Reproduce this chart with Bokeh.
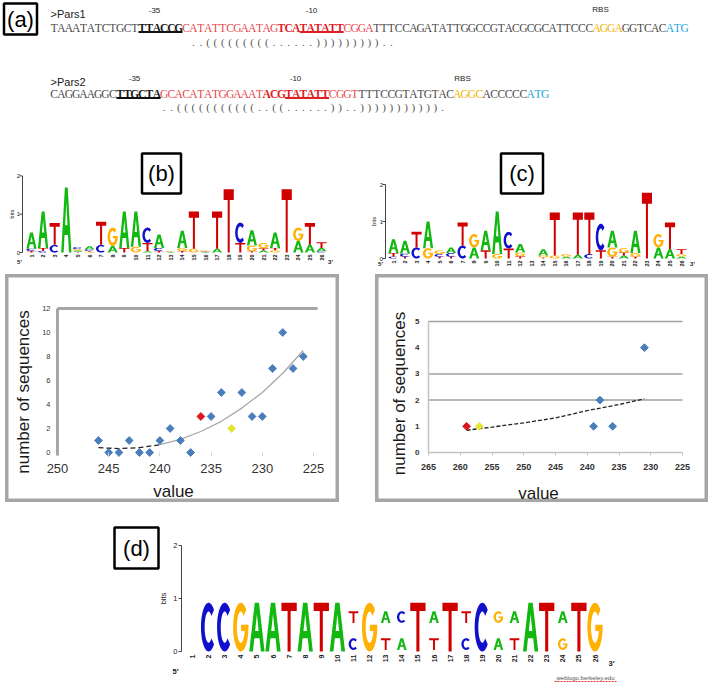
import numpy as np
from bokeh.plotting import figure
from bokeh.models import Range1d, FixedTicker, Spacer, LinearAxis
from bokeh.layouts import column, row
from bokeh.core.properties import value
from bokeh.embed import file_html
from bokeh.resources import INLINE

# ------------------------------------------------------------------ data
# panel (a): promoter sequences split into annotated segments
PARS1_SEGMENTS = ["TAAATATCTGCT", "TTACCG", "CATATTCGAATAG", "TCA", "TATATT", "CGGA",
                  "TTTCCAGATATTGGCCGTACGCGCATTCCC", "AGGA", "GGTCAC", "ATG"]
PARS2_SEGMENTS = ["CAGGAAGGC", "TTGCTA", "GCACATATGGAAAT", "ACG", "TATATT", "CGGT",
                  "TTTCCGTATGTAC", "AGGC", "ACCCCC", "ATG"]
SEGMENT_ROLES = ["plain", "m35", "red", "redbold", "m10", "red", "plain", "rbs", "plain", "start"]
PARS1_STRUCTURE = "..(((((((((......)))))))))..";
PARS2_STRUCTURE = "..(((((((((((..((......))..)))))))))))."
PARS1_STRUCT_START = 19
PARS2_STRUCT_START = 15

# panel (b) logo: information (bits) per letter, positions 1..26
LOGO_B_A = [0.42, 0.95, 0, 1.70, 0.03, 0.08, 0, 0.17, 0.95, 0.92, 0.03, 0.35, 0.01, 0.45, 0, 0.01, 0.10, 0, 0, 0.40, 0.05, 0.40, 0, 0.30, 0.20, 0.09]
LOGO_B_C = [0.06, 0.04, 0.20, 0, 0.05, 0.04, 0.20, 0, 0, 0, 0.40, 0.08, 0.01, 0, 0, 0.01, 0, 0, 0.53, 0, 0, 0, 0, 0, 0, 0.03]
LOGO_B_G = [0, 0, 0, 0, 0.04, 0.02, 0, 0.48, 0, 0.15, 0, 0, 0.01, 0.08, 0.10, 0.02, 0, 0, 0, 0.15, 0.14, 0.06, 0, 0.35, 0, 0]
LOGO_B_T = [0.04, 0.08, 0.57, 0, 0.02, 0.02, 0.60, 0, 0.12, 0, 0.22, 0.04, 0.01, 0.04, 0.97, 0.01, 0.97, 1.65, 0.25, 0.03, 0.06, 0.06, 1.65, 0, 0.57, 0.15]

# panel (c) logo
LOGO_C_A = [0.37, 0.35, 0, 0.72, 0, 0.15, 0, 0.30, 0.53, 1.15, 0, 0.23, 0, 0.17, 0, 0.05, 0.10, 0, 0, 0.45, 0.08, 0.60, 0, 0.30, 0.25, 0.05]
LOGO_C_C = [0.05, 0.08, 0.30, 0, 0.07, 0.10, 0.35, 0, 0, 0, 0.45, 0, 0, 0, 0, 0, 0, 0.12, 0.72, 0, 0, 0, 0, 0, 0, 0]
LOGO_C_G = [0, 0, 0, 0.28, 0.10, 0, 0, 0.36, 0, 0.12, 0, 0.10, 0, 0.05, 0.08, 0.07, 0, 0, 0, 0.25, 0.12, 0.10, 0, 0.36, 0, 0.07]
LOGO_C_T = [0.10, 0.05, 0.42, 0, 0.05, 0.05, 0.62, 0, 0.22, 0, 0.27, 0.06, 0, 0.03, 1.16, 0, 1.14, 1.12, 0.22, 0.05, 0.08, 0.05, 1.78, 0, 0.72, 0.13]

# panel (d) logo: main (bottom) letter and optional top letter per position
LOGO_D_MAIN = ["", "C", "C", "G", "A", "A", "T", "A", "T", "A", "C", "G", "T", "A", "T", "T", "T",
               "C", "C", "A", "T", "A", "T", "G", "T", "G"]
LOGO_D_MAIN_H = [0, 0.92, 0.92, 0.92, 0.92, 0.92, 0.92, 0.92, 0.92, 0.92, 0.22, 0.92, 0.22, 0.22, 0.92, 0.22,
                 0.92, 0.22, 0.92, 0.22, 0.22, 0.92, 0.92, 0.22, 0.92, 0.92]
LOGO_D_TOP = ["", "", "", "", "", "", "", "", "", "", "T", "", "A", "C", "", "A", "", "T", "", "G", "A",
              "", "", "A", "", ""]
LOGO_D_TOP_H = [0, 0, 0, 0, 0, 0, 0, 0, 0, 0, 0.22, 0, 0.22, 0.22, 0, 0.22, 0, 0.22, 0, 0.22, 0.22,
                0, 0, 0.22, 0, 0]

# panel (b) scatter
B_VALUE = [246, 245, 244, 243, 242, 241, 240, 239, 238, 237, 236, 235, 234, 233, 232, 231, 230, 229, 228, 227, 226]
B_COUNT = [1, 0, 0, 1, 0, 0, 1, 2, 1, 0, 3, 3, 5, 2, 5, 3, 3, 7, 10, 7, 8]
B_RED = 236
B_YELLOW = 233
B_TREND_X = [246, 244, 242, 240, 238, 236, 234, 232, 230, 228, 226]
B_TREND_Y = [0.40, 0.33, 0.40, 0.65, 1.10, 1.75, 2.60, 3.70, 5.00, 6.60, 8.50]
B_XTICKS = [250, 245, 240, 235, 230, 225]
B_YTICKS = [0, 2, 4, 6, 8, 10, 12]

# panel (c) scatter
C_VALUE = [259, 257, 239, 238, 236, 231]
C_COUNT = [1, 1, 1, 2, 1, 4]
C_RED = 259
C_YELLOW = 257
C_TREND_X = [259, 255, 250, 245, 240, 235, 231]
C_TREND_Y = [0.85, 0.97, 1.13, 1.32, 1.60, 1.83, 2.05]
C_XTICKS = [265, 260, 255, 250, 245, 240, 235, 230, 225]
C_YTICKS = [0, 1, 2, 3, 4, 5]
C_GRID = [2, 3, 5]

# ------------------------------------------------------------------ styles
SANS_NAME = "Liberation Sans"
SANS = value(SANS_NAME)
SERIF = value("Liberation Serif")
LETTER_COLORS = {"A": "#10b810", "C": "#1010cc", "G": "#ffb000", "T": "#d00000"}
ROLE_STYLE = {"plain": ("#4a4a4a", "normal"), "m35": ("#1a1a1a", "bold"),
              "red": ("#e8474c", "normal"), "redbold": ("#e01e26", "bold"),
              "m10": ("#e01e26", "bold"), "rbs": ("#f2b300", "normal"),
              "start": ("#23a6e0", "normal")}
BLUE = "#4a7ebb"
RED = "#e0141c"
YELLOW = "#e4e636"
BOX_GRAY = "#a6a6a6"


def blank_fig(w, h, xr, yr):
    p = figure(width=w, height=h, x_range=Range1d(*xr), y_range=Range1d(*yr),
               x_axis_type=None, y_axis_type=None, output_backend="svg",
               toolbar_location=None, min_border=0)
    p.outline_line_color = None
    p.grid.visible = False
    return p


# ------------------------------------------------------------------ panel (a)
X0, PITCH = 50.0, 7.33
pa = blank_fig(709, 140, (0, 709), (140, 0))


def draw_sequence(p, segments, y_base, y_line):
    idx = 0
    for seg, role in zip(segments, SEGMENT_ROLES):
        color, style = ROLE_STYLE[role]
        xs = [X0 + (idx + k + 0.5) * PITCH for k in range(len(seg))]
        p.text(x=xs, y=[y_base] * len(seg), text=list(seg), text_color=color,
               text_font=SERIF, text_font_style=style, text_font_size="11.5px",
               text_align="center", text_baseline="alphabetic")
        if role in ("m35", "m10"):
            p.segment(x0=[X0 + idx * PITCH], y0=[y_line], x1=[X0 + (idx + len(seg)) * PITCH],
                      y1=[y_line], line_color=("#111111" if role == "m35" else "#e01e26"),
                      line_width=2)
        idx += len(seg)


def draw_structure(p, s, start, y):
    xs = [X0 + (start + k + 0.5) * PITCH for k in range(len(s))]
    p.text(x=xs, y=[y] * len(s), text=list(s), text_color="#555555", text_font=SERIF,
           text_font_size="11px", text_align="center", text_baseline="middle")


draw_sequence(pa, PARS1_SEGMENTS, 27, 31.5)
draw_sequence(pa, PARS2_SEGMENTS, 93.5, 97.5)
draw_structure(pa, PARS1_STRUCTURE, PARS1_STRUCT_START, 41.5)
draw_structure(pa, PARS2_STRUCTURE, PARS2_STRUCT_START, 106.5)
pa.text(x=[50, 50], y=[13, 81], text=[">Pars1", ">Pars2"], text_font=SANS,
        text_font_size="11px", text_color="#222222", text_baseline="alphabetic")
pa.text(x=[154, 311, 600, 134, 295, 462], y=[10, 10, 9, 78, 78, 78],
        text=["-35", "-10", "RBS", "-35", "-10", "RBS"], text_font=SANS,
        text_font_size="8px", text_color="#222222", text_align="center",
        text_baseline="alphabetic")
pa.rect(x=[20], y=[18.5], width=33, height=31, fill_color=None, line_color="black",
        line_width=2.5)
pa.text(x=[20], y=[18.5], text=["(a)"], text_font=SANS, text_font_size="22px",
        text_align="center", text_baseline="middle", text_color="black")


# ------------------------------------------------------------------ letter shapes
def letter_shape(L):
    if L == "A":
        outer = [(0, 0), (0.36, 1), (0.64, 1), (1, 0), (0.76, 0), (0.67, 0.27), (0.33, 0.27), (0.24, 0)]
        hole = [(0.385, 0.42), (0.615, 0.42), (0.5, 0.77)]
        return [outer, hole]
    if L == "T":
        return [[(0, 1), (1, 1), (1, 0.83), (0.6, 0.83), (0.6, 0), (0.4, 0), (0.4, 0.83), (0, 0.83)]]
    if L == "C":
        a = np.radians(np.linspace(45, 315, 40))
        b = a[::-1]
        outer = list(zip(0.5 + 0.5 * np.cos(a), 0.5 + 0.5 * np.sin(a)))
        inner = list(zip(0.5 + 0.26 * np.cos(b), 0.5 + 0.32 * np.sin(b)))
        return [outer + inner]
    a = np.radians(np.linspace(45, 360, 44))
    outer = list(zip(0.5 + 0.5 * np.cos(a), 0.5 + 0.5 * np.sin(a)))
    bar_pts = [(1, 0.55), (0.52, 0.55), (0.52, 0.42), (0.76, 0.42)]
    b = np.radians(np.linspace(-15, -315, 40))
    inner = list(zip(0.5 + 0.26 * np.cos(b), 0.5 + 0.32 * np.sin(b)))
    return [outer + bar_pts + inner]


SHAPES = {L: letter_shape(L) for L in "ACGT"}


def add_letters(p, items):
    xs, ys, cs = [], [], []
    for L, xc, w, y0, h in items:
        rings = SHAPES[L]
        xs.append([[[float(xc - w / 2 + w * pt[0]) for pt in r] for r in rings]])
        ys.append([[[float(y0 + h * pt[1]) for pt in r] for r in rings]])
        cs.append(LETTER_COLORS[L])
    p.multi_polygons(xs=xs, ys=ys, fill_color=cs, line_color=None)


def stacked_items(a, c, g, t, width):
    items = []
    for i in range(len(a)):
        col = sorted([("A", a[i]), ("C", c[i]), ("G", g[i]), ("T", t[i])], key=lambda z: z[1])
        y = 0.0
        for L, h in col:
            if h > 0:
                items.append((L, i + 1, width, y, h))
                y += h
    return items


class LogoFrame:
    def __init__(self, w, h, left, top, pos1, sp, y0, ppb):
        self.pos1, self.sp, self.y0, self.ppb = pos1, sp, y0, ppb
        self.p = blank_fig(w, h, (self.X(left), self.X(left + w)), (self.Y(top + h), self.Y(top)))

    def X(self, px):
        return 1 + (px - self.pos1) / self.sp

    def Y(self, py):
        return (self.y0 - py) / self.ppb


def logo_axes(lf, n, ax_px, lab_px, bits_px, num_top_px, five, three, tick_fs, lab_fs, end_fs):
    p = lf.p
    ax = lf.X(ax_px)
    p.segment(x0=[ax], y0=[0], x1=[ax], y1=[2], line_color="#444444", line_width=1)
    p.segment(x0=[lf.X(ax_px - 3)] * 3, y0=[0, 1, 2], x1=[ax] * 3, y1=[0, 1, 2],
              line_color="#444444", line_width=1)
    p.text(x=[lf.X(lab_px)] * 3, y=[0, 1, 2], text=["0", "1", "2"], text_font=SANS,
           text_font_size=lab_fs, text_align="right", text_baseline="middle", text_color="#222222")
    p.text(x=[lf.X(bits_px)], y=[1], text=["bits"], angle=np.pi / 2, text_font=SANS,
           text_font_size=lab_fs, text_align="center", text_baseline="middle", text_color="#222222")
    pos = list(range(1, n + 1))
    p.text(x=pos, y=[lf.Y(num_top_px)] * n, text=[str(i) for i in pos], angle=np.pi / 2,
           text_font=SANS, text_font_style="bold", text_font_size=tick_fs, text_align="right",
           text_baseline="middle", text_color="#222222")
    p.text(x=[lf.X(five[0]), lf.X(three[0])], y=[lf.Y(five[1]), lf.Y(three[1])],
           text=["5\u2032", "3\u2032"], text_font=SANS, text_font_style="bold",
           text_font_size=end_fs, text_align="center", text_baseline="middle", text_color="#222222")


def panel_box(p, x, y, w, h, label):
    p.rect(x=[x], y=[y], width=w, height=h, width_units="screen", height_units="screen",
           fill_color=None, line_color="black", line_width=2.5)
    p.text(x=[x], y=[y], text=[label], text_font=SANS, text_font_size="22px",
           text_align="center", text_baseline="middle", text_color="black")


# ------------------------------------------------------------------ logo (b)
lb = LogoFrame(355, 132, 0, 140, 31, 11.6, 252, 38.3)
add_letters(lb.p, stacked_items(LOGO_B_A, LOGO_B_C, LOGO_B_G, LOGO_B_T, 0.88))
logo_axes(lb, 26, 22, 19.5, 11, 254, (19, 261), (330, 261), "5.5px", "6px", "6px")
panel_box(lb.p, lb.X(161), lb.Y(173), 39, 40, "(b)")

# ------------------------------------------------------------------ logo (c)
lc = LogoFrame(354, 132, 355, 140, 393, 11.52, 258, 37)
add_letters(lc.p, stacked_items(LOGO_C_A, LOGO_C_C, LOGO_C_G, LOGO_C_T, 0.88))
logo_axes(lc, 26, 385, 382.5, 373, 260, (380, 263), (692, 263), "5.5px", "6px", "6px")
panel_box(lc.p, lc.X(521.5), lc.Y(173), 42, 40, "(c)")

# ------------------------------------------------------------------ logo (d)
ld = LogoFrame(709, 180, 0, 505, 192, 16.1, 651, 53)
d_items = []
for i in range(len(LOGO_D_MAIN)):
    if LOGO_D_MAIN[i] and not LOGO_D_TOP[i]:
        d_items.append((LOGO_D_MAIN[i], i + 1, 0.95, 0.0, LOGO_D_MAIN_H[i]))
    elif LOGO_D_MAIN[i]:
        d_items.append((LOGO_D_MAIN[i], i + 1, 0.6, 0.03, LOGO_D_MAIN_H[i]))
        d_items.append((LOGO_D_TOP[i], i + 1, 0.6, 0.54, LOGO_D_TOP_H[i]))
add_letters(ld.p, d_items)
logo_axes(ld, 26, 181, 177, 163, 654, (175, 671), (611, 663), "7px", "7.5px", "7.5px")
panel_box(ld.p, ld.X(136), ld.Y(547.5), 44, 41, "(d)")
ld.p.text(x=[ld.X(585)], y=[ld.Y(677)], text=["weblogo.berkeley.edu"], text_font=SANS,
          text_font_size="6px", text_align="center", text_baseline="middle", text_color="#555555")
ld.p.segment(x0=[ld.X(554)], y0=[ld.Y(681)], x1=[ld.X(616)], y1=[ld.Y(681)],
             line_color="#e03030", line_width=1, line_dash="2 1")


# ------------------------------------------------------------------ scatter plots
def scatter_fig(w, h, left_px, top_px, xval, xval_px, x_ppu, y0_px, y_ppu):
    """Figure whose frame is the whole gray box; ranges map values onto the box."""
    xr = (xval + (xval_px - left_px) / x_ppu, xval - (left_px + w - xval_px) / x_ppu)
    yr = ((y0_px - (top_px + h)) / y_ppu, (y0_px - top_px) / y_ppu)
    p = figure(width=w, height=h, x_range=Range1d(*xr), y_range=Range1d(*yr),
               x_axis_type=None, y_axis_type=None, output_backend="svg",
               toolbar_location=None, min_border=0)
    p.grid.visible = False
    p.outline_line_color = BOX_GRAY
    p.outline_line_width = 6
    return p


def add_axis(p, side, loc, ticks, bounds, **props):
    base = dict(minor_tick_line_color=None, major_label_text_font=SANS_NAME,
                major_label_text_color="#333333", axis_label_text_font=SANS_NAME,
                axis_label_text_font_size="17px", axis_label_text_font_style="normal",
                axis_label_text_color="#1a1a1a")
    base.update(props)
    ax = LinearAxis(fixed_location=loc, ticker=FixedTicker(ticks=ticks), bounds=bounds, **base)
    p.add_layout(ax, side)
    return ax


def add_title_axis(p, side, loc, bounds, label, standoff):
    add_axis(p, side, loc, [], bounds, axis_line_color=None, major_tick_line_color=None,
             major_tick_out=0, major_tick_in=0, major_label_standoff=0,
             axis_label=label, axis_label_standoff=standoff)


# (b)
sb = scatter_fig(334, 228, 5, 274, 250, 57, 10.24, 452, 12)
add_axis(sb, "below", 0, B_XTICKS, (B_XTICKS[0], B_XTICKS[-1]), axis_line_color=None,
         major_tick_line_color="#d4d4d4", major_tick_out=4, major_tick_in=0,
         major_label_text_font_size="13px", major_label_standoff=7)
add_axis(sb, "left", B_XTICKS[0], B_YTICKS, (-0.25, B_YTICKS[-1]), axis_line_color=BOX_GRAY,
         axis_line_width=3, major_tick_line_color=None, major_tick_out=0, major_tick_in=0,
         major_label_text_font_size="7.5px", major_label_standoff=7)
add_title_axis(sb, "below", 0, (252.3, B_XTICKS[-1]), "value", 29)
add_title_axis(sb, "left", B_XTICKS[0], (-1.9, B_YTICKS[-1]), "number of sequences", 25)
sb.segment(x0=[B_XTICKS[0]], y0=[B_YTICKS[-1]], x1=[B_XTICKS[-1] - 0.4], y1=[B_YTICKS[-1]],
           line_color=BOX_GRAY, line_width=3)

split = B_TREND_X.index(240)
sb.line(B_TREND_X[split:], B_TREND_Y[split:], line_color="#a8a8a8", line_width=1.3)
sb.line(B_TREND_X[:split + 1], B_TREND_Y[:split + 1], line_color="#222222", line_width=1.3,
        line_dash="5 3")
b_col = [RED if v == B_RED else YELLOW if v == B_YELLOW else BLUE for v in B_VALUE]
sb.scatter(B_VALUE, B_COUNT, marker="square", angle=np.pi / 4, size=5.5, fill_color=b_col,
           line_color=b_col)

# (c)
sc = scatter_fig(333, 228, 375, 274, 265, 428, 6.35, 452, 26.2)
for gy in C_GRID:
    sc.segment(x0=[C_XTICKS[0]], y0=[gy], x1=[C_XTICKS[-1]], y1=[gy], line_color="#a0a0a0",
               line_width=1.5)
add_axis(sc, "below", 0, C_XTICKS, (C_XTICKS[0], C_XTICKS[-1]), axis_line_color="#c4c4c4",
         axis_line_width=1.5, major_tick_line_color="#c4c4c4", major_tick_out=3,
         major_tick_in=0, major_label_text_font_size="9px", major_label_text_font_style="bold",
         major_label_standoff=8)
add_axis(sc, "left", C_XTICKS[0], C_YTICKS, (0, C_YTICKS[-1]), axis_line_color="#c4c4c4",
         axis_line_width=1.5, major_tick_line_color=None, major_tick_out=0, major_tick_in=0,
         major_label_text_font_size="8px", major_label_text_font_style="bold",
         major_label_standoff=9)
add_title_axis(sc, "below", 0, (C_XTICKS[0], 230.36), "value", 31)
add_title_axis(sc, "left", C_XTICKS[0], (0, 4.5), "number of sequences", 20)

sc.line(C_TREND_X, C_TREND_Y, line_color="#222222", line_width=1.3, line_dash="4 2")
c_col = [RED if v == C_RED else YELLOW if v == C_YELLOW else BLUE for v in C_VALUE]
sc.scatter(C_VALUE, C_COUNT, marker="square", angle=np.pi / 4, size=5.5, fill_color=c_col,
           line_color=c_col)

# ------------------------------------------------------------------ layout
layout = column(
    pa,
    row(lb.p, lc.p),
    Spacer(height=2),
    row(Spacer(width=5), sb, Spacer(width=36), sc, Spacer(width=1)),
    Spacer(height=3),
    ld.p,
)

open("out.html", "w").write(file_html(layout, INLINE))
